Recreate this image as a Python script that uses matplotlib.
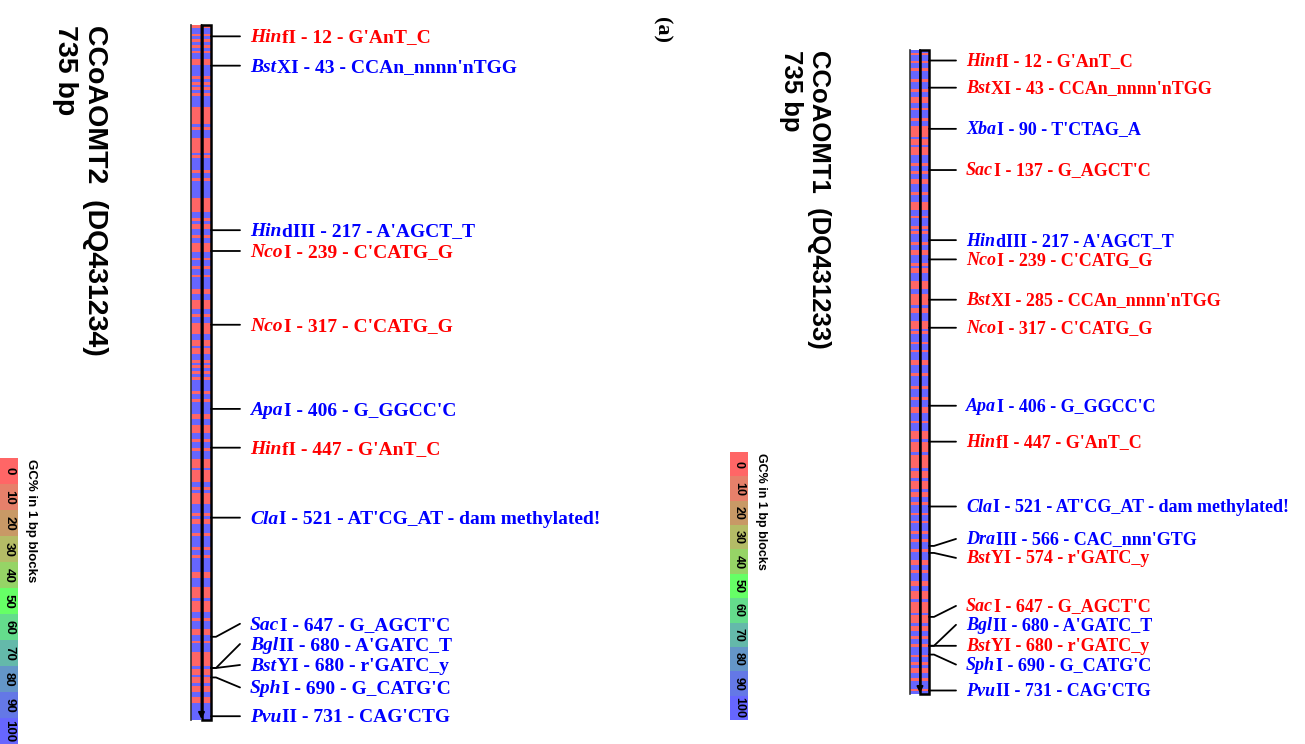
import numpy as np
import matplotlib
matplotlib.use("Agg")
import matplotlib.pyplot as plt
from matplotlib.colors import ListedColormap
from matplotlib.patches import Rectangle

W, H = 1305, 744
seq_len = 735

# GC pattern, one letter = 3 bp : r = A/T (0 %), b = G/C (100 %)
gc_ccoaomt2 = ("r bb r b r b r b r bb rr bbbb r b r b r b r bbbb rrrrrr b r bbb rrrrr b r "
               "bbbb r bb r bbbbbb rrrrr bb r b rr bb r bb rrr bb r bb r bb r bbbb rr bb "
               "rrr bb r bb rrrr bb rr b rr bb rbrb r b r bbbb r bb r bbbb rr bb rrr bb r "
               "bb r bbb rrrbrrrr bb r b rrrr bbb r b rr bbb r bbbb r bb r bbbbb rr bbb "
               "rrrrbrrrr bb r bbb rr bb r bbb rrrrr b rrbrrbrr bb rr bbbbbb").replace(" ", "")
gc_ccoaomt1 = ("brbb rbbrbb brbbbrbb rrbbrbbbrbb rrrrbrrbrrrbb brbbrbbrrbbbrbbb "
               "rrrbbrbbbrbrbbb rbbrrbbbrbrrbbb rrrbbrrrrbrrbbbrrrbrbbb rbbrbbbrrbbbrbb "
               "bbrbbbrbbbrrbbbrbbb rrrbrrrrbrrrrrbrrrbrrrbrrbb rbbbrbbrbbbrbbr "
               "bbbrbbbrrbbrbbbrrbb rrrbrrrrbrrrbrrbbrbbrbb brbbrbrrbbrbbbrb").replace(" ", "")

# restriction sites, CCoAOMT2 (DQ431234)
enz_2 = ["HinfI", "BstXI", "HindIII", "NcoI", "NcoI", "ApaI", "HinfI", "ClaI",
         "SacI", "BglII", "BstYI", "SphI", "PvuII"]
pos_2 = [12, 43, 217, 239, 317, 406, 447, 521, 647, 680, 680, 690, 731]
site_2 = ["G'AnT_C", "CCAn_nnnn'nTGG", "A'AGCT_T", "C'CATG_G", "C'CATG_G", "G_GGCC'C",
          "G'AnT_C", "AT'CG_AT - dam methylated!", "G_AGCT'C", "A'GATC_T", "r'GATC_y",
          "G_CATG'C", "CAG'CTG"]

# restriction sites, CCoAOMT1 (DQ431233)
enz_1 = ["HinfI", "BstXI", "XbaI", "SacI", "HindIII", "NcoI", "BstXI", "NcoI", "ApaI",
         "HinfI", "ClaI", "DraIII", "BstYI", "SacI", "BglII", "BstYI", "SphI", "PvuII"]
pos_1 = [12, 43, 90, 137, 217, 239, 285, 317, 406, 447, 521, 566, 574, 647, 680, 680,
         690, 731]
site_1 = ["G'AnT_C", "CCAn_nnnn'nTGG", "T'CTAG_A", "G_AGCT'C", "A'AGCT_T", "C'CATG_G",
          "CCAn_nnnn'nTGG", "C'CATG_G", "G_GGCC'C", "G'AnT_C", "AT'CG_AT - dam methylated!",
          "CAC_nnn'GTG", "r'GATC_y", "G_AGCT'C", "A'GATC_T", "r'GATC_y", "G_CATG'C",
          "CAG'CTG"]

gc_levels = [0, 10, 20, 30, 40, 50, 60, 70, 80, 90, 100]

# styles
RED, BLUE = "#ff0000", "#0000ff"
col_2 = [RED, BLUE, BLUE, RED, RED, BLUE, RED, BLUE, BLUE, BLUE, BLUE, BLUE, BLUE]
col_1 = [RED, RED, BLUE, RED, BLUE, RED, RED, RED, BLUE, RED, BLUE, BLUE, RED, RED,
         BLUE, RED, BLUE, BLUE]
# label shift in pixels (down) to keep crowded labels apart
shift_2 = [0, 0, 0, 0, 0, 0, 0, 0, -13, -24, -3, 10, 0]
shift_1 = [0, 0, 0, 0, 0, 0, 0, 0, 0, 0, 0, -7, 5, -11, -21, 0, 10, 0]
level_colors = ["#ff6666", "#e6806a", "#c89966", "#b4bc66", "#96d466", "#66ff66",
                "#64dc8c", "#64b9aa", "#6496c8", "#6478e6", "#6666ff"]
stripe_cmap = ListedColormap(["#ff6666", "#6666ff"])

fig = plt.figure(figsize=(W / 100, H / 100), dpi=100)
renderer = fig.canvas.get_renderer()


def px_axes(x0, y0, x1, y1):
    return fig.add_axes([x0 / W, 1 - y1 / H, (x1 - x0) / W, (y1 - y0) / H])


def draw_map(box, gc, enz, pos, site, cols, shift, tick_len, text_gap, fs):
    ax = px_axes(*box)
    vals = np.array([0 if c == "r" else 100 for c in gc])[:, None]
    for xa, xb in [(0, 1), (1.1, 2)]:
        ax.imshow(vals, cmap=stripe_cmap, vmin=0, vmax=100, aspect="auto",
                  interpolation="nearest", extent=[xa, xb, seq_len, 0])
    ax.set_xlim(0, 2)
    ax.set_ylim(seq_len, 0)
    ax.axis("off")
    ax.plot([0, 0], [0, seq_len], color="#333333", lw=1.2, clip_on=False)
    ax.add_patch(Rectangle((1.05, 0), 0.95, seq_len, fill=False, ec="black", lw=1.8,
                           clip_on=False))
    ax.annotate("", xy=(1.05, seq_len - 1), xytext=(1.05, 0),
                arrowprops=dict(arrowstyle="-|>", color="black", lw=1.4,
                                mutation_scale=9, shrinkA=0, shrinkB=0))
    tr = ax.get_yaxis_transform()
    for e, p, s, c, dy in zip(enz, pos, site, cols, shift):
        ax.annotate("", xy=(1.0, p), xycoords=tr, xytext=(tick_len, -dy),
                    textcoords="offset pixels",
                    arrowprops=dict(arrowstyle="-", color="black", lw=1.3,
                                    shrinkA=0, shrinkB=0,
                                    connectionstyle="arc,angleA=180,armA=0,angleB=0,armB=5,rad=0"))
        kw = dict(xycoords=tr, textcoords="offset pixels", va="baseline", ha="left",
                  fontfamily="Liberation Serif", fontweight="bold", fontsize=fs,
                  color=c, annotation_clip=False)
        t1 = ax.annotate(e[:3], xy=(1.0, p), xytext=(text_gap, -dy - 0.42 * fs),
                         fontstyle="italic", **kw)
        w = t1.get_window_extent(renderer).width
        ax.annotate(f"{e[3:]} - {p} - {s}", xy=(1.0, p),
                    xytext=(text_gap + w + 1, -dy - 0.42 * fs), **kw)
    return ax


def draw_legend(box, label_x, label_y, fs):
    ax = px_axes(*box)
    n = len(gc_levels)
    for i, (lv, cl) in enumerate(zip(gc_levels, level_colors)):
        ax.bar(0.5, 1, bottom=i, width=1, color=cl)
        ax.text(0.5, i + 0.5, str(lv), rotation=-90, ha="center", va="center",
                fontsize=fs, fontweight="bold", fontfamily="Liberation Sans")
    ax.set_xlim(0, 1)
    ax.set_ylim(n, 0)
    ax.axis("off")
    fig.text(label_x / W, 1 - label_y / H, "GC% in 1 bp blocks", rotation=-90,
             ha="center", va="top", fontsize=fs, fontweight="bold",
             fontfamily="Liberation Sans")


# left panel
fig.text(108 / W, 1 - 25 / H, "CCoAOMT2  (DQ431234)\n735 bp", rotation=-90,
         ha="right", va="top", multialignment="left", fontsize=20.5,
         fontweight="bold", fontfamily="Liberation Sans", linespacing=1.2)
draw_legend((0, 458, 18, 744), 31, 459, 9.5)
draw_map((191, 25, 211, 720), gc_ccoaomt2, enz_2, pos_2, site_2, col_2, shift_2,
         29, 39, 14)

# right panel
fig.text(662 / W, 1 - 30 / H, "(a)", rotation=-90, ha="center", va="center",
         fontsize=16, fontweight="bold", fontfamily="Liberation Serif")
fig.text(831 / W, 1 - 50 / H, "CCoAOMT1  (DQ431233)\n735 bp", rotation=-90,
         ha="right", va="top", multialignment="left", fontsize=18.5,
         fontweight="bold", fontfamily="Liberation Sans", linespacing=1.2)
draw_legend((730, 452, 748, 720), 761, 453, 9)
draw_map((910, 50, 929, 694), gc_ccoaomt1, enz_1, pos_1, site_1, col_1, shift_1,
         27, 37, 13)

fig.savefig("out.png", dpi=100)
